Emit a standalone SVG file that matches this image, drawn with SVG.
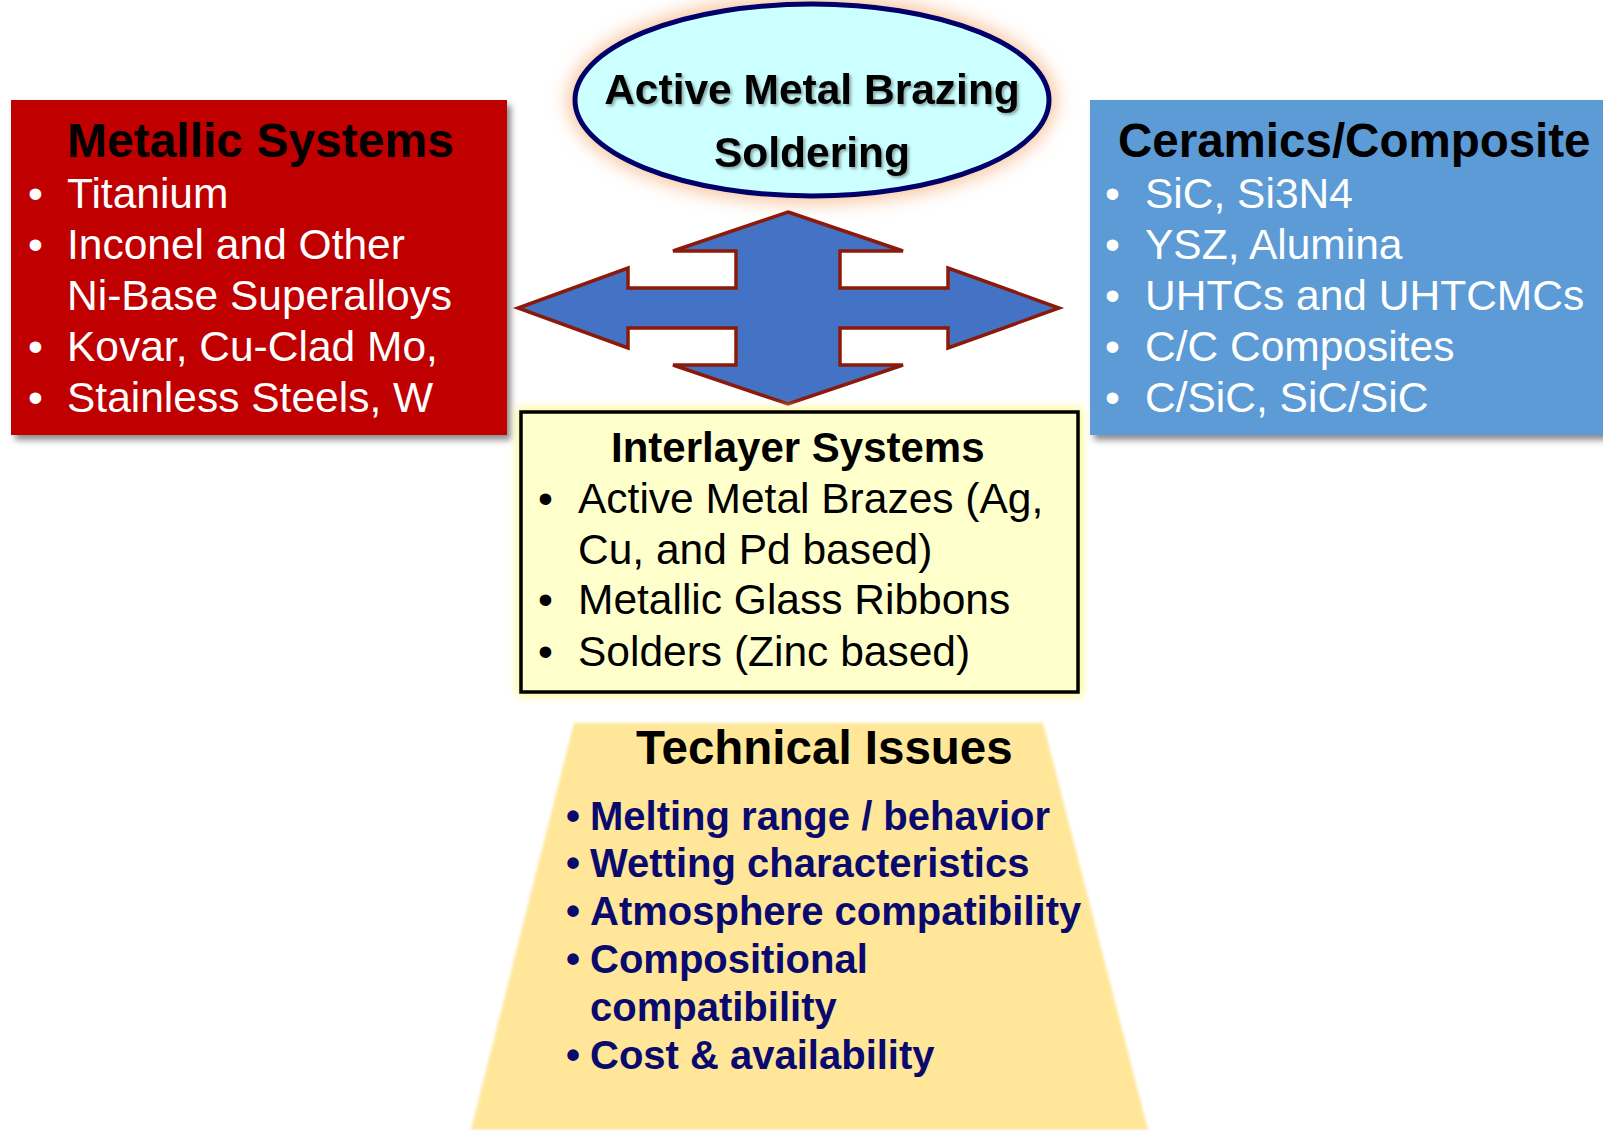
<svg xmlns="http://www.w3.org/2000/svg" width="1603" height="1130" viewBox="0 0 1603 1130">
<defs>
<style>
text{font-family:"Liberation Sans",Arial,sans-serif}
.ttl{font-weight:bold;font-size:47.5px;fill:#000}
.itemW{font-size:42.5px;fill:#fff}
.itemB{font-size:42.5px;fill:#000}
.iss{font-weight:bold;font-size:40px;fill:#0A0A6E}
.ell{font-weight:bold;font-size:42.5px;fill:#000;text-anchor:middle}
</style>
<filter id="shadow" x="-5%" y="-5%" width="115%" height="120%">
<feDropShadow dx="4" dy="5" stdDeviation="3" flood-color="#000" flood-opacity="0.45"/>
</filter>
<filter id="glowO" x="-20%" y="-30%" width="140%" height="160%">
<feGaussianBlur stdDeviation="9"/>
</filter>
<filter id="glowY" x="-10%" y="-10%" width="120%" height="120%">
<feGaussianBlur stdDeviation="4"/>
</filter>
<filter id="soft" x="-5%" y="-5%" width="110%" height="110%">
<feGaussianBlur stdDeviation="1.5"/>
</filter>
<filter id="tshadow" x="-5%" y="-20%" width="110%" height="150%">
<feDropShadow dx="2" dy="2" stdDeviation="1.5" flood-color="#000" flood-opacity="0.35"/>
</filter>
</defs>
<rect width="1603" height="1130" fill="#fff"/>

<g id="metallic">
<rect x="11" y="100" width="496" height="335" fill="#C00000" filter="url(#shadow)"/>
<text class="ttl" x="67" y="157" style="font-size:48px">Metallic Systems</text>
<text class="itemW" x="28" y="208">•</text><text class="itemW" x="67" y="208">Titanium</text>
<text class="itemW" x="28" y="259">•</text><text class="itemW" x="67" y="259">Inconel and Other</text>
<text class="itemW" x="67" y="310">Ni-Base Superalloys</text>
<text class="itemW" x="28" y="361">•</text><text class="itemW" x="67" y="361">Kovar, Cu-Clad Mo,</text>
<text class="itemW" x="28" y="412">•</text><text class="itemW" x="67" y="412">Stainless Steels, W</text>
</g>

<g id="ceramics">
<rect x="1090" y="100" width="520" height="335" fill="#5B9BD5" filter="url(#shadow)"/>
<text class="ttl" x="1118" y="157">Ceramics/Composite</text>
<text class="itemW" x="1105" y="208">•</text><text class="itemW" x="1145" y="208">SiC, Si3N4</text>
<text class="itemW" x="1105" y="259">•</text><text class="itemW" x="1145" y="259">YSZ, Alumina</text>
<text class="itemW" x="1105" y="310">•</text><text class="itemW" x="1145" y="310">UHTCs and UHTCMCs</text>
<text class="itemW" x="1105" y="361">•</text><text class="itemW" x="1145" y="361">C/C Composites</text>
<text class="itemW" x="1105" y="412">•</text><text class="itemW" x="1145" y="412">C/SiC, SiC/SiC</text>
</g>

<g id="brazing">
<ellipse cx="812" cy="100" rx="244" ry="103" fill="#F7B98A" opacity="0.85" filter="url(#glowO)"/>
<ellipse cx="812" cy="100" rx="237" ry="96" fill="#CCFFFF" stroke="#00006B" stroke-width="5"/>
<g filter="url(#tshadow)">
<text class="ell" x="812" y="104">Active Metal Brazing</text>
<text class="ell" x="812" y="167">Soldering</text>
</g>
</g>

<g id="connectors">
<path d="M788,212 L903,251 L840,251 L840,288 L948,288 L948,268 L1059,308 L948,348 L948,328 L840,328 L840,365 L903,365 L788,404 L673,365 L736,365 L736,328 L628,328 L628,348 L518,308 L628,268 L628,288 L736,288 L736,251 L673,251 Z" fill="#4472C4" stroke="#8B1A0A" stroke-width="3.5" stroke-linejoin="miter"/>
</g>

<g id="interlayer">
<rect x="517" y="408" width="565" height="288" fill="#FFF68A" filter="url(#glowY)"/>
<rect x="521" y="412" width="557" height="280" fill="#FFFFCC" stroke="#000" stroke-width="3.5"/>
<text class="ttl" x="611" y="462" style="font-size:42px">Interlayer Systems</text>
<text class="itemB" x="538" y="513">•</text><text class="itemB" x="578" y="513">Active Metal Brazes (Ag,</text>
<text class="itemB" x="578" y="564">Cu, and Pd based)</text>
<text class="itemB" x="538" y="614">•</text><text class="itemB" x="578" y="614">Metallic Glass Ribbons</text>
<text class="itemB" x="538" y="666">•</text><text class="itemB" x="578" y="666">Solders (Zinc based)</text>
</g>

<g id="issues">
<polygon points="574,723 1043,723 1148,1130 471,1130" fill="#FFE699" filter="url(#soft)"/>
<text class="ttl" x="636" y="764">Technical Issues</text>
<text class="iss" x="566" y="830">•</text><text class="iss" x="590" y="830">Melting range / behavior</text>
<text class="iss" x="566" y="877">•</text><text class="iss" x="590" y="877">Wetting characteristics</text>
<text class="iss" x="566" y="925">•</text><text class="iss" x="590" y="925">Atmosphere compatibility</text>
<text class="iss" x="566" y="973">•</text><text class="iss" x="590" y="973">Compositional</text>
<text class="iss" x="590" y="1021">compatibility</text>
<text class="iss" x="566" y="1069">•</text><text class="iss" x="590" y="1069">Cost &amp; availability</text>
</g>
</svg>
